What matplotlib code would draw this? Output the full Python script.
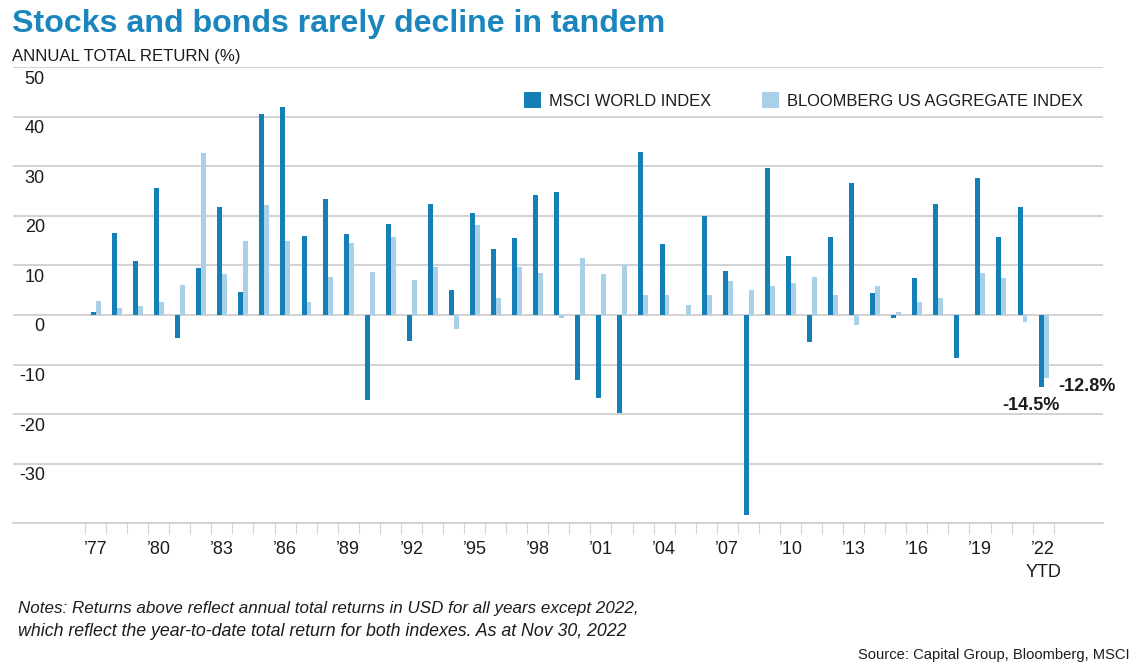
import numpy as np
import matplotlib
matplotlib.use("Agg")
import matplotlib.pyplot as plt
from matplotlib.patches import Patch
from matplotlib.transforms import ScaledTranslation

# ---------------- data ----------------
years = list(range(1977, 2023))
msci = [0.7, 16.5, 10.9, 25.7, -4.7, 9.5, 21.8, 4.6, 40.5, 41.9,
        16.0, 23.3, 16.4, -17.1, 18.3, -5.2, 22.4, 5.0, 20.6, 13.4,
        15.5, 24.2, 24.7, -13.1, -16.7, -19.8, 32.9, 14.4, 0.0, 20.0,
        8.9, -40.4, 29.7, 11.9, -5.4, 15.7, 26.6, 4.4, -0.7, 7.5,
        22.3, -8.7, 27.6, 15.7, 21.7, -14.5]
bonds = [2.9, 1.4, 1.9, 2.6, 6.1, 32.6, 8.3, 15.0, 22.1, 15.0,
         2.6, 7.6, 14.5, 8.6, 15.8, 7.1, 9.6, -2.8, 18.1, 3.4,
         9.6, 8.4, -0.6, 11.5, 8.3, 10.1, 4.0, 4.0, 2.0, 4.1,
         6.9, 5.1, 5.8, 6.5, 7.7, 4.1, -2.0, 5.8, 0.7, 2.6,
         3.4, 0.0, 8.5, 7.4, -1.5, -12.8]
tick_years = list(range(1977, 2023, 3))
tick_labels = ["\u201977", "\u201980", "\u201983", "\u201986", "\u201989", "\u201992",
               "\u201995", "\u201998", "\u201901", "\u201904", "\u201907", "\u201910",
               "\u201913", "\u201916", "\u201919", "\u201922\nYTD"]
y_ticks = [50, 40, 30, 20, 10, 0, -10, -20, -30]
series_names = ["MSCI WORLD INDEX", "BLOOMBERG US AGGREGATE INDEX"]

# ---------------- style ----------------
DARK = "#1580b8"
LIGHT = "#a8d1e9"
TITLE_C = "#1a86bd"
TXT = "#1c1c1c"
GRID = "#cfcfcf"
FONT = ["Liberation Sans", "DejaVu Sans"]
plt.rcParams["font.family"] = FONT

W, H = 1140, 668
fig = plt.figure(figsize=(W / 100, H / 100), dpi=100)
fig.patch.set_facecolor("white")

ax_bottom_px, ax_top_px = 522.7, 67.0
ax = fig.add_axes([13 / W, 1 - ax_bottom_px / H, 1090 / W, (ax_bottom_px - ax_top_px) / H])

yrs = np.array(years, dtype=float)
bw = 0.235
b1 = ax.bar(yrs - 0.10, msci, width=bw, color=DARK, zorder=3, linewidth=0)
b2 = ax.bar(yrs - 0.10 + bw, bonds, width=bw, color=LIGHT, zorder=3, linewidth=0)

ax.set_xlim(1973.08, 2024.84)
ax.set_ylim(-41.88, 50)

for s in ["left", "right", "top"]:
    ax.spines[s].set_visible(False)
ax.spines["bottom"].set_color(GRID)
ax.spines["bottom"].set_linewidth(1.3)

# y grid + labels (labels sit just below each gridline, inside the plot)
ax.set_yticks(y_ticks)
ax.set_yticklabels([str(v) for v in y_ticks])
ax.yaxis.grid(True, color=GRID, linewidth=1.3, zorder=0)
ax.tick_params(axis="y", length=0, pad=-22.9, labelsize=13, labelcolor=TXT)
off = ScaledTranslation(0, -12 / 100, fig.dpi_scale_trans)
for lab in ax.get_yticklabels():
    lab.set_horizontalalignment("right")
    lab.set_verticalalignment("center")
    lab.set_transform(lab.get_transform() + off)

# x ticks: labels every 3 years, small tick marks between years
ax.set_xticks(tick_years)
ax.set_xticklabels(tick_labels, linespacing=1.45)
ax.set_xticks(np.arange(1976.5, 2023.0, 1.0), minor=True)
ax.tick_params(axis="x", which="major", length=0, pad=13, labelsize=13, labelcolor=TXT)
ax.tick_params(axis="x", which="minor", length=8, width=0.8, color="#d6d6d6")

# legend
handles = [Patch(facecolor=DARK, edgecolor="none"), Patch(facecolor=LIGHT, edgecolor="none")]
ax.legend(handles, series_names, loc="center left",
          bbox_to_anchor=(524 / W, 1 - 100.5 / H), bbox_transform=fig.transFigure,
          ncol=2, frameon=False, handlelength=1.05, handleheight=1.05,
          handletextpad=0.45, columnspacing=3.1, borderpad=0, borderaxespad=0,
          fontsize=11.85, labelcolor=TXT)

# end-value annotations
ax.annotate(f"{msci[-1]:.1f}%", xy=(years[-1] - 0.10, msci[-1]), xytext=(-10, -19),
            textcoords="offset pixels", ha="center", va="center",
            fontsize=13, fontweight="bold", color=TXT)
ax.annotate(f"{bonds[-1]:.1f}%", xy=(years[-1] - 0.10 + bw, bonds[-1]), xytext=(12, -8),
            textcoords="offset pixels", ha="left", va="center",
            fontsize=13, fontweight="bold", color=TXT)

# texts
title = fig.text(12 / W, 1 - 24 / H, "Stocks and bonds rarely decline in tandem",
                 fontsize=20, fontweight="bold", color=TITLE_C, ha="left", va="center")
ylab = fig.text(12 / W, 1 - 56 / H, "ANNUAL TOTAL RETURN (%)", fontsize=12,
                color=TXT, ha="left", va="center")
n1 = fig.text(18 / W, 1 - 608 / H,
              "Notes: Returns above reflect annual total returns in USD for all years except 2022,",
              fontsize=11, style="italic", color=TXT, ha="left", va="center")
n2 = fig.text(18 / W, 1 - 631 / H,
              "which reflect the year-to-date total return for both indexes. As at Nov 30, 2022",
              fontsize=11, style="italic", color=TXT, ha="left", va="center")
src = fig.text(1130 / W, 1 - 655 / H, "Source: Capital Group, Bloomberg, MSCI",
               fontsize=11, color=TXT, ha="right", va="center")

# fit text widths to the reference layout
fig.canvas.draw()
r = fig.canvas.get_renderer()
for t, target in [(title, 653), (ylab, 228), (n1, 618), (n2, 609), (src, 269)]:
    w = t.get_window_extent(r).width
    t.set_fontsize(t.get_fontsize() * target / w)

fig.savefig("out.png", dpi=100, facecolor="white")
